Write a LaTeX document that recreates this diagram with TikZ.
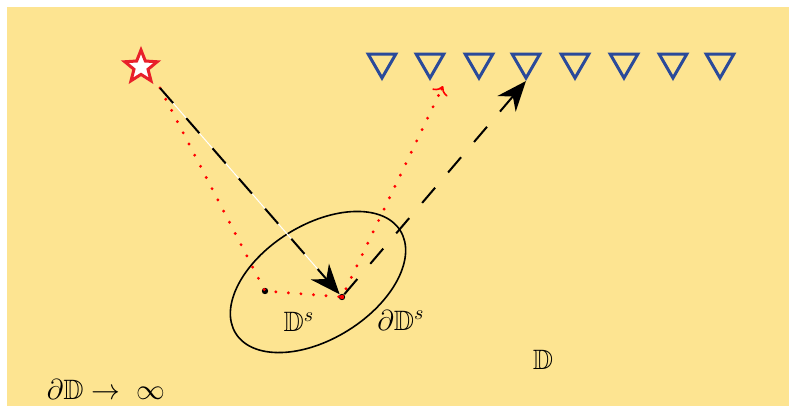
\documentclass[tikz,border=0pt]{standalone}
\usepackage{amssymb}
\usetikzlibrary{arrows.meta,shapes.geometric,calc}
\definecolor{bgyellow}{HTML}{FDE491}
\definecolor{starred}{HTML}{E8202A}
\definecolor{triblue}{HTML}{2A4A9A}
\tikzset{
  lbl/.style={inner sep=0pt, font=\fontsize{14}{16}\selectfont},
  tri/.style={regular polygon, regular polygon sides=3, shape border rotate=180, draw=triblue, line width=1.5pt, minimum size=16pt, inner sep=0pt},
  bigarrow/.style={line width=1pt, dash pattern=on 10pt off 10pt, -{Stealth[length=15pt,width=12pt]}},
  redpath/.style={red, line width=1.6pt, dash pattern=on 0pt off 6.3pt, line cap=round},
  dotnode/.style={circle, fill=black, inner sep=0pt, minimum size=3.2pt}
}
\begin{document}
\begin{tikzpicture}[x=0.5pt,y=-0.5pt]
\useasboundingbox (0,0) rectangle (789,408);
\fill[bgyellow] (7,7) rectangle (789,406);
% star
\node[star, star points=5, star point ratio=2.3, draw=starred, fill=white, line width=1.5pt, minimum size=17pt, inner sep=0pt] (src) at (141,67) {};
% receivers
\foreach \i/\x in {1/382,2/430,3/479,4/526,5/575,6/624,7/673,8/720}{
  \node[tri] (r\i) at (\x,62) {};
}
% ellipse
\node[draw, ellipse, line width=0.8pt, minimum width=97pt, minimum height=57pt, rotate=32, inner sep=0pt] (ell) at (318,282) {};
% points
\node[dotnode] (p1) at (265,291) {};
\node[dotnode] (p2) at (342,297) {};
\coordinate (s0) at (160,88);
\coordinate (rt) at (443,86);
% red dotted path
\draw[redpath] (s0) -- (p1.center) -- (p2.center) -- (rt);
\draw[red, line width=0.8pt, -{To[length=4pt]}] ($(rt)!0.02!(p2)$) -- (rt);
% white line under first arrow
\draw[white, line width=0.5pt] (s0) -- (p2);
\draw[bigarrow] (s0) -- (p2);
\draw[bigarrow] (p2) -- (r4.south);
\fill[red] (p2) circle (2.2);
% labels
\node[lbl] (lds) at (299,322) {$\mathbb{D}^s$};
\node[lbl] (lbds) at (401,320) {$\partial\mathbb{D}^s$};
\node[lbl] (ld) at (543,360) {$\mathbb{D}$};
\node[lbl] (linf) at (106,389) {$\partial\mathbb{D}\rightarrow\;\infty$};
\end{tikzpicture}
\end{document}
